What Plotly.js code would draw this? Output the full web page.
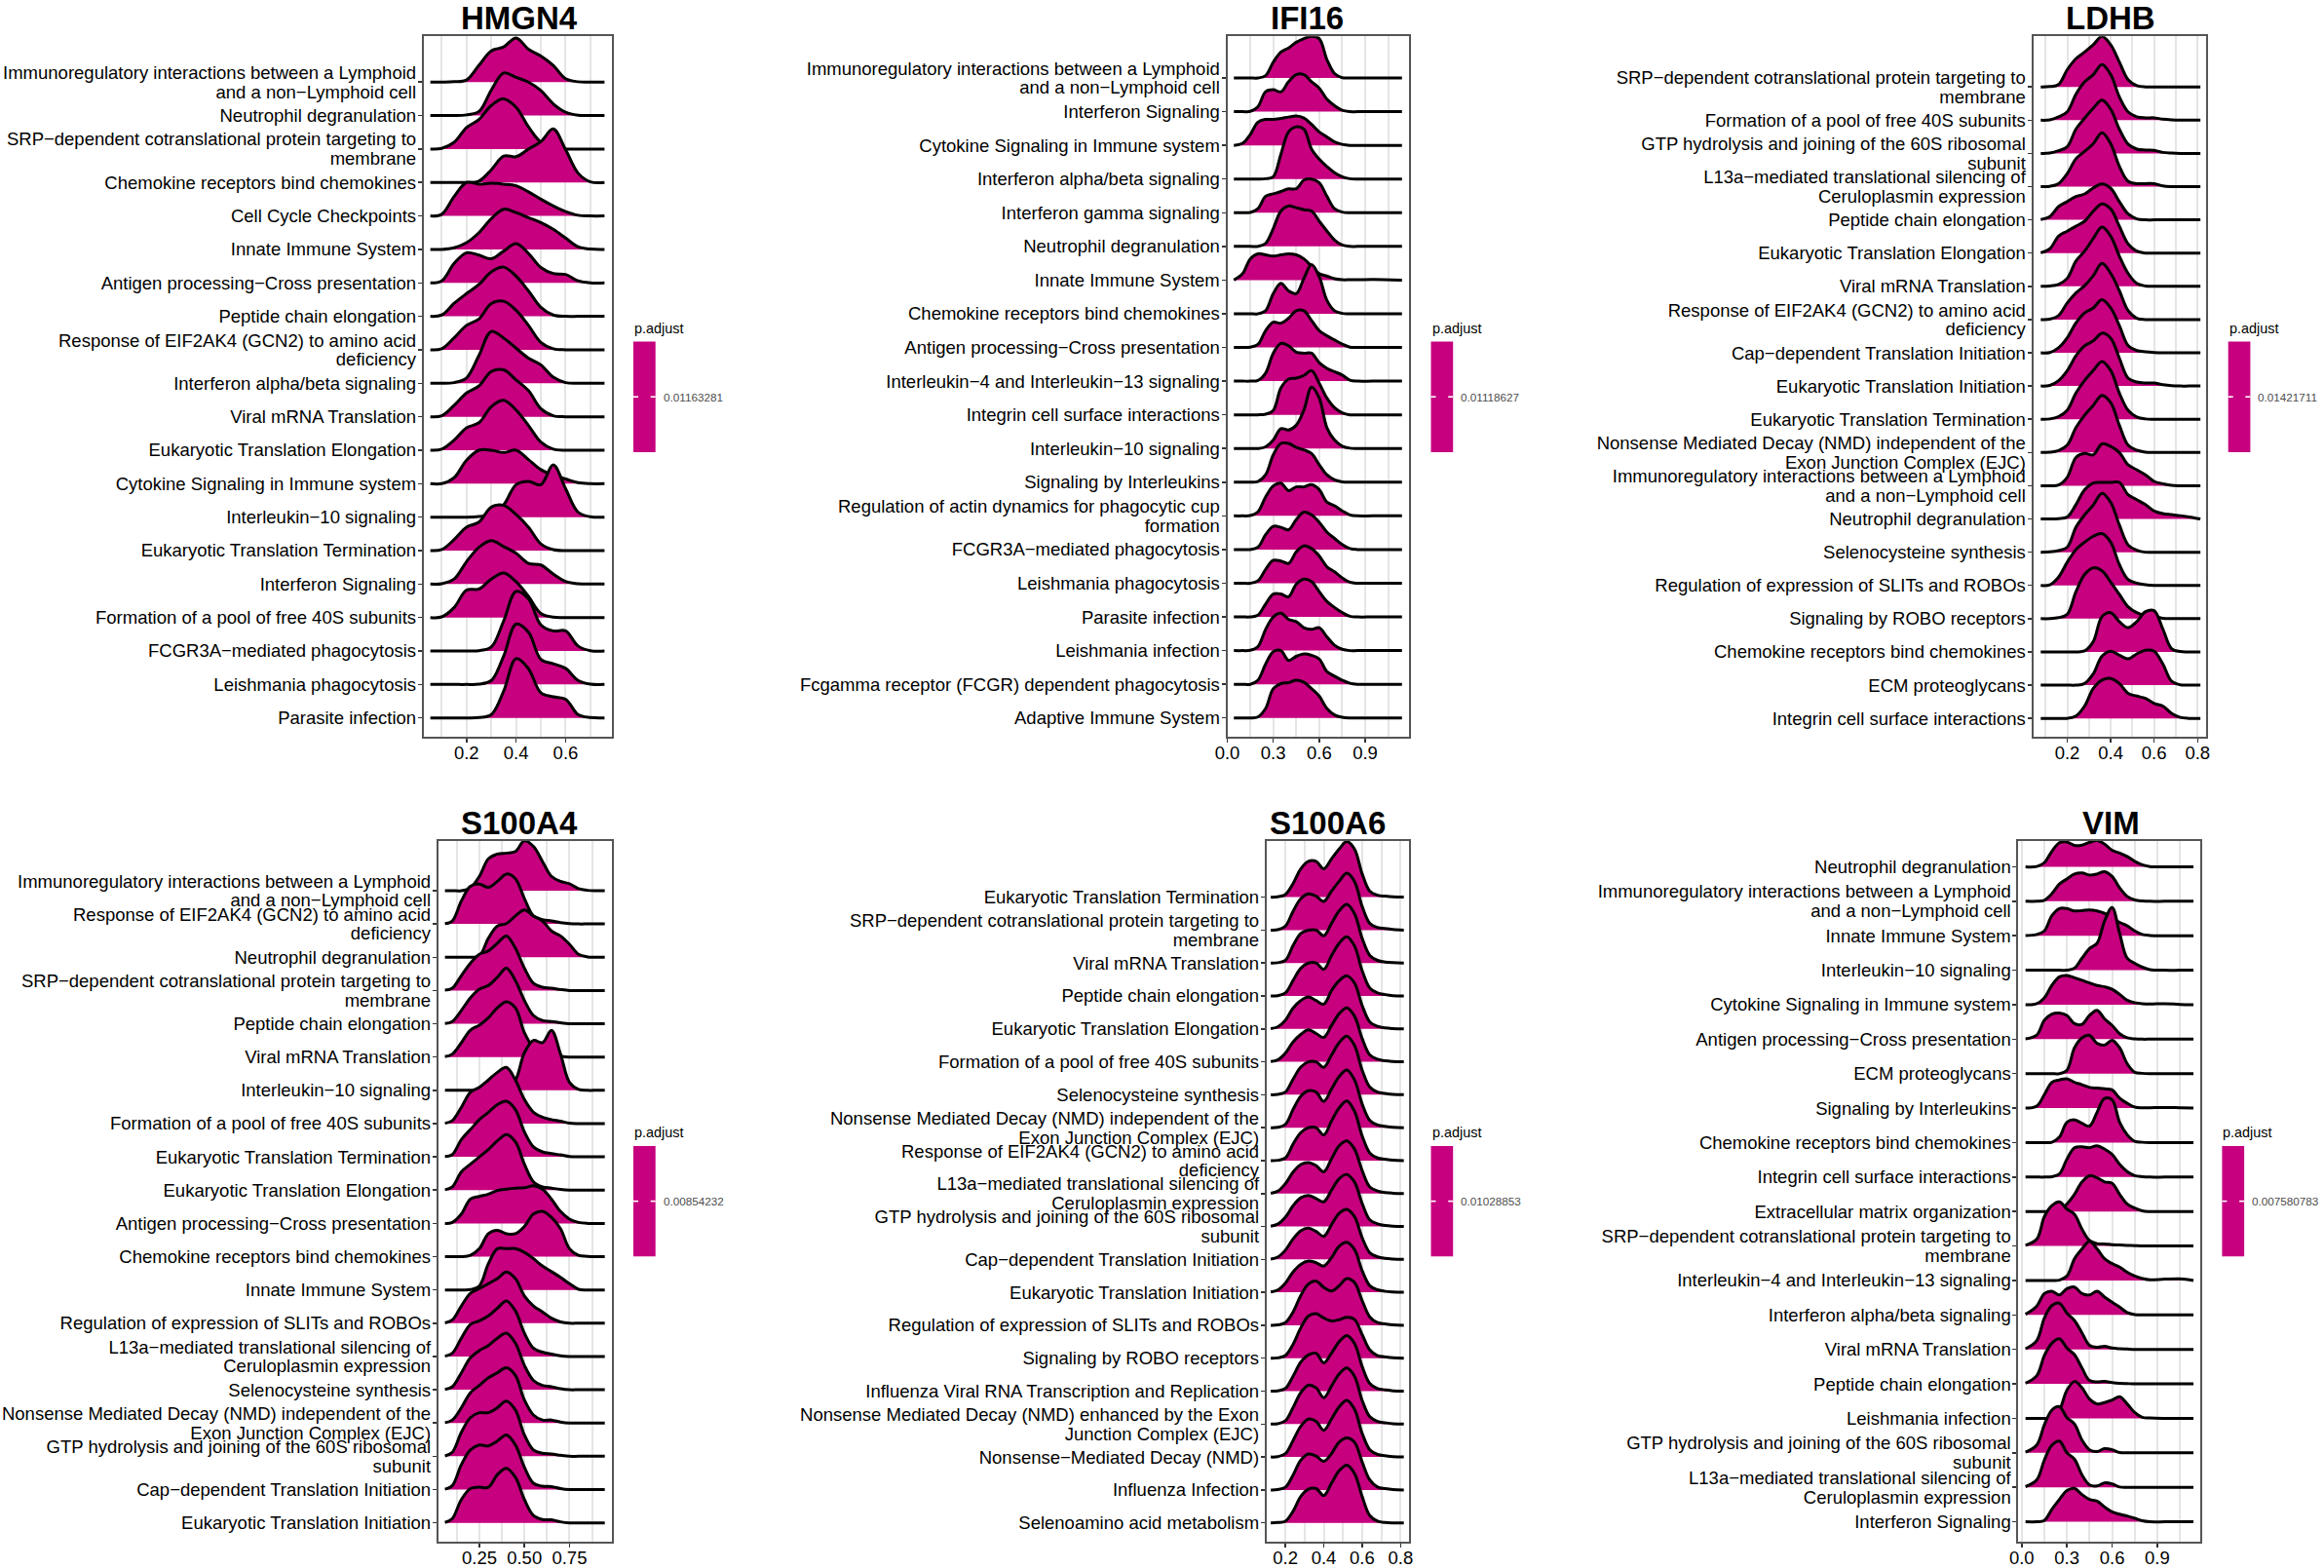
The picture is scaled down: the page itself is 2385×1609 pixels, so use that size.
<!DOCTYPE html>
<html>
<head>
<meta charset="utf-8">
<script src="https://cdn.plot.ly/plotly-3.0.1.min.js"></script>
<style>body{margin:0;background:#fff}</style>
</head>
<body>
<div id="plot" style="width:2385px;height:1609px"></div>
<script>
/***** HMGN4 *****/
var hmgn4Terms = ['Immunoregulatory interactions between a Lymphoid<br>and a non−Lymphoid cell','Neutrophil degranulation','SRP−dependent cotranslational protein targeting to<br>membrane','Chemokine receptors bind chemokines','Cell Cycle Checkpoints','Innate Immune System','Antigen processing−Cross presentation','Peptide chain elongation','Response of EIF2AK4 (GCN2) to amino acid<br>deficiency','Interferon alpha/beta signaling','Viral mRNA Translation','Eukaryotic Translation Elongation','Cytokine Signaling in Immune system','Interleukin−10 signaling','Eukaryotic Translation Termination','Interferon Signaling','Formation of a pool of free 40S subunits','FCGR3A−mediated phagocytosis','Leishmania phagocytosis','Parasite infection'];
var hmgn4X = [.054,.1,.15,.2,.25,.3,.35,.4,.45,.5,.55,.6,.65,.7,.757];
var hmgn4Density = [
  [0,0,.01,.06,.5,.93,1.05,1.32,.98,.78,.5,.1,.01,0,0],
  [0,0,0,.02,.12,.76,1.27,1.14,1.0,.75,.35,.1,.01,0,0],
  [0,.02,.2,.64,.88,1.3,1.5,1.25,.66,.2,.02,0,0,0,0],
  [0,0,0,0,.04,.38,.79,.77,1.0,1.22,1.6,.98,.28,.02,0],
  [0,.05,.58,1.0,.95,.98,.95,.9,.72,.5,.3,.13,.02,0,0],
  [0,0,.05,.2,.5,.92,1.2,1.1,.95,.8,.6,.34,.08,.01,0],
  [0,.06,.58,.9,.83,.72,.95,1.17,.88,.46,.28,.25,.06,0,0],
  [0,.04,.39,.68,.95,1.33,1.47,1.2,.76,.27,.04,0,0,0,0],
  [0,.03,.36,.73,.92,1.38,1.45,1.18,.73,.22,.03,0,0,0,0],
  [0,0,.02,.16,.83,1.55,1.35,1.05,.75,.55,.18,.02,0,0,0],
  [0,.03,.34,.71,.92,1.35,1.4,1.1,.78,.24,.03,0,0,0,0],
  [0,.03,.3,.67,.82,1.3,1.49,1.2,.74,.24,.03,0,0,0,0],
  [0,0,.18,.7,1.0,1.0,.93,1.0,.72,.42,.25,.14,.03,0,0],
  [0,0,0,0,.02,.08,.37,.97,1.07,.97,1.56,.85,.15,.01,0],
  [0,.03,.33,.7,.85,1.3,1.35,1.08,.7,.2,.03,0,0,0,0],
  [0,.01,.15,.67,1.1,1.3,1.12,.92,.62,.57,.3,.08,.01,0,0],
  [0,.02,.3,.82,.85,1.15,1.33,1.07,.63,.12,.01,0,0,0,0],
  [0,0,0,0,.01,.12,.9,1.78,1.56,.78,.6,.6,.15,.01,0],
  [0,0,0,0,.01,.12,.85,1.8,1.56,.75,.62,.48,.12,.01,0],
  [0,0,0,0,.01,.1,.8,1.77,1.47,.75,.63,.56,.1,.01,0]
];

/***** IFI16 *****/
var ifi16Terms = ['Immunoregulatory interactions between a Lymphoid<br>and a non−Lymphoid cell','Interferon Signaling','Cytokine Signaling in Immune system','Interferon alpha/beta signaling','Interferon gamma signaling','Neutrophil degranulation','Innate Immune System','Chemokine receptors bind chemokines','Antigen processing−Cross presentation','Interleukin−4 and Interleukin−13 signaling','Integrin cell surface interactions','Interleukin−10 signaling','Signaling by Interleukins','Regulation of actin dynamics for phagocytic cup<br>formation','FCGR3A−mediated phagocytosis','Leishmania phagocytosis','Parasite infection','Leishmania infection','Fcgamma receptor (FCGR) dependent phagocytosis','Adaptive Immune System'];
var ifi16X = [.043,.1,.15,.2,.25,.3,.35,.4,.45,.5,.55,.6,.65,.7,.75,.8,.85,.95,1.14];
var ifi16Density = [
  [0,0,0,0,.07,.47,.77,.89,1.06,1.17,1.24,1.17,.55,.13,.01,0,0,0,0],
  [0,0,.01,.15,.59,.65,.59,.89,1.1,1.1,.89,.7,.37,.18,.04,0,0,0,0],
  [0,.06,.32,.69,.77,.77,.8,.84,.87,.81,.62,.4,.25,.1,.03,0,0,0,0],
  [0,0,0,0,.01,.07,.74,1.4,1.55,1.48,.89,.59,.37,.19,.07,.01,0,0,0],
  [0,0,.01,.12,.49,.56,.63,.71,.71,.97,1.0,.89,.49,.12,.02,0,0,0,0],
  [0,0,0,0,.09,.53,1.05,1.2,1.15,1.09,1.05,.75,.46,.19,.04,0,0,0,0],
  [0,.19,.63,.78,.75,.71,.75,.78,.75,.63,.41,.19,.12,.04,.01,.01,.01,.02,0],
  [0,0,0,0,.09,.6,.9,.68,.6,1.05,1.46,1.1,.4,.09,.01,0,0,0,0],
  [0,0,.01,.09,.5,.75,.72,.87,1.09,1.09,.8,.5,.35,.22,.1,.01,0,0,0],
  [0,0,0,.02,.24,.83,1.12,1.05,.86,.83,.83,.55,.38,.28,.18,.03,0,0,0],
  [0,0,0,0,.02,.13,.8,1.06,1.09,1.17,1.31,.94,.5,.21,.06,0,0,0,0],
  [0,0,0,0,.05,.25,.59,.55,.69,1.14,1.82,1.5,.62,.25,.07,.01,0,0,0],
  [0,0,0,.02,.22,.81,1.15,1.15,1.03,.96,.85,.52,.22,.07,.01,0,0,0,0],
  [0,0,.01,.12,.56,.89,.97,.75,.86,.86,.93,.78,.41,.3,.15,.03,0,0,0],
  [0,0,0,.07,.44,.69,.66,.59,.89,1.11,1.03,.81,.52,.33,.15,.03,0,0,0],
  [0,0,0,.07,.41,.68,.66,.59,.93,1.11,1.03,.81,.49,.34,.16,.03,0,0,0],
  [0,0,0,.05,.38,.68,.68,.6,.97,1.12,1.05,.75,.46,.28,.13,.02,0,0,0],
  [0,0,.01,.12,.63,1.0,1.11,.93,.86,.68,.63,.68,.41,.16,.04,0,0,0,0],
  [0,0,0,.12,.6,.97,1.0,.71,.83,.9,.86,.75,.38,.24,.12,.03,0,0,0],
  [0,0,0,.03,.28,.87,1.02,1.05,1.12,1.06,.87,.65,.28,.09,.02,0,0,0,0]
];

/***** LDHB *****/
var ldhbTerms = ['SRP−dependent cotranslational protein targeting to<br>membrane','Formation of a pool of free 40S subunits','GTP hydrolysis and joining of the 60S ribosomal<br>subunit','L13a−mediated translational silencing of<br>Ceruloplasmin expression','Peptide chain elongation','Eukaryotic Translation Elongation','Viral mRNA Translation','Response of EIF2AK4 (GCN2) to amino acid<br>deficiency','Cap−dependent Translation Initiation','Eukaryotic Translation Initiation','Eukaryotic Translation Termination','Nonsense Mediated Decay (NMD) independent of the<br>Exon Junction Complex (EJC)','Immunoregulatory interactions between a Lymphoid<br>and a non−Lymphoid cell','Neutrophil degranulation','Selenocysteine synthesis','Regulation of expression of SLITs and ROBOs','Signaling by ROBO receptors','Chemokine receptors bind chemokines','ECM proteoglycans','Integrin cell surface interactions'];
var ldhbX = [.078,.12,.16,.2,.24,.28,.32,.36,.4,.44,.48,.52,.56,.6,.64,.68,.72,.76,.813];
var ldhbDensity = [
  [0,.01,.07,.52,.85,1.05,1.27,1.52,1.27,.75,.22,.04,0,0,0,0,0,0,0],
  [0,.01,.1,.25,.78,1.15,1.37,1.67,1.37,.7,.25,.1,.07,.07,.03,.01,0,0,0],
  [0,.01,.08,.2,.73,1.06,1.36,1.6,1.33,.73,.28,.13,.1,.09,.03,.01,0,0,0],
  [0,.01,.09,.39,.84,1.06,1.29,1.62,1.29,.61,.16,.09,.09,.09,.02,0,0,0,0],
  [.01,.1,.4,.55,.7,.78,.96,1.08,.95,.55,.18,.03,0,0,0,0,0,0,0],
  [.01,.13,.51,.66,.81,.96,1.26,1.48,1.33,.81,.28,.06,0,0,0,0,0,0,0],
  [0,.01,.06,.24,.76,1.06,1.44,1.78,1.51,.91,.39,.09,.01,0,0,0,0,0,0],
  [0,.01,.12,.5,.8,1.02,1.32,1.69,1.39,.87,.27,.04,0,0,0,0,0,0,0],
  [0,.01,.15,.45,.9,1.2,1.35,1.6,1.35,.82,.22,.07,.03,.01,0,0,0,0,0],
  [0,.02,.16,.46,.91,1.21,1.36,1.59,1.44,.84,.24,.12,.09,.09,.04,.01,0,0,0],
  [0,.01,.08,.27,.79,1.17,1.47,1.74,1.47,.79,.27,.07,.01,0,0,0,0,0,0],
  [0,.01,.06,.22,.75,1.12,1.42,1.72,1.5,.82,.22,.07,.01,0,0,0,0,0,0],
  [0,0,.02,.25,.85,.97,.93,1.26,1.18,1.0,.63,.48,.33,.13,.06,.01,0,0,0],
  [0,0,.01,.06,.43,.88,1.08,1.1,1.1,1.1,.73,.58,.43,.24,.16,.13,.1,.06,0],
  [0,.01,.05,.15,.75,1.12,1.42,1.77,1.5,.82,.22,.06,0,0,0,0,0,0,0],
  [0,.02,.25,.7,1.08,1.3,1.48,1.56,1.3,.63,.18,.07,.02,0,0,0,0,0,0],
  [0,0,.03,.13,.81,1.33,1.53,1.44,1.1,.73,.36,.18,.09,.06,.01,0,0,0,0],
  [0,0,0,0,0,.03,.31,1.06,1.18,.91,.73,.91,1.21,1.24,.69,.1,.01,0,0],
  [0,0,0,0,0,.05,.34,.87,1.02,.9,.79,.94,1.05,1.02,.64,.12,.01,0,0],
  [0,0,0,0,.07,.37,.9,1.15,1.2,1.05,.75,.67,.6,.45,.37,.15,.03,0,0]
];

/***** S100A4 *****/
var s100a4Terms = ['Immunoregulatory interactions between a Lymphoid<br>and a non−Lymphoid cell','Response of EIF2AK4 (GCN2) to amino acid<br>deficiency','Neutrophil degranulation','SRP−dependent cotranslational protein targeting to<br>membrane','Peptide chain elongation','Viral mRNA Translation','Interleukin−10 signaling','Formation of a pool of free 40S subunits','Eukaryotic Translation Termination','Eukaryotic Translation Elongation','Antigen processing−Cross presentation','Chemokine receptors bind chemokines','Innate Immune System','Regulation of expression of SLITs and ROBOs','L13a−mediated translational silencing of<br>Ceruloplasmin expression','Selenocysteine synthesis','Nonsense Mediated Decay (NMD) independent of the<br>Exon Junction Complex (EJC)','GTP hydrolysis and joining of the 60S ribosomal<br>subunit','Cap−dependent Translation Initiation','Eukaryotic Translation Initiation'];
var s100a4X = [.059,.1,.15,.2,.25,.3,.35,.4,.45,.5,.55,.6,.65,.7,.75,.8,.85,.9,.946];
var s100a4Density = [
  [0,0,0,.09,.43,.96,1.1,1.13,1.18,1.5,1.33,.88,.43,.28,.21,.06,.01,0,0],
  [.01,.09,.69,1.13,1.2,1.1,1.28,1.5,1.36,.76,.24,.13,.09,.04,.01,0,0,0,0],
  [0,0,0,0,.04,.57,.94,1.01,1.24,1.42,1.24,1.09,.79,.64,.39,.09,.01,0,0],
  [.01,.07,.45,.82,1.09,1.19,1.42,1.64,1.27,.67,.22,.1,.07,.03,0,0,0,0,0],
  [.01,.07,.4,.78,1.04,1.15,1.4,1.67,1.3,.7,.25,.1,.07,.03,0,0,0,0,0],
  [.01,.09,.43,.81,.96,1.18,1.48,1.66,1.48,.73,.28,.13,.09,.03,0,0,0,0,0],
  [0,0,0,0,0,0,.01,.03,.3,1.13,1.5,1.43,1.8,1.1,.24,.03,0,0,0],
  [.01,.09,.49,.94,1.09,1.31,1.54,1.69,1.31,.72,.34,.19,.12,.07,.01,0,0,0,0],
  [.01,.07,.52,.82,1.12,1.34,1.57,1.67,1.42,.75,.3,.15,.1,.06,.01,0,0,0,0],
  [.01,.1,.55,.78,1.0,1.22,1.48,1.67,1.45,.78,.25,.1,.06,.02,0,0,0,0,0],
  [0,.03,.28,.73,.81,.88,.99,1.03,1.06,1.07,1.13,1.03,.73,.36,.13,.03,0,0,0],
  [0,0,0,.04,.24,.69,.79,.69,.69,.91,1.28,1.36,1.18,.84,.24,.04,.01,0,0],
  [0,0,0,.01,.12,.79,1.24,1.24,1.24,1.13,.94,.72,.55,.38,.19,.02,0,0,0],
  [.01,.1,.52,.9,1.04,1.19,1.34,1.54,1.34,.82,.52,.34,.15,.04,0,0,0,0,0],
  [.01,.1,.55,.96,1.07,1.22,1.45,1.67,1.37,.7,.25,.13,.07,.02,0,0,0,0,0],
  [.01,.09,.51,.96,1.18,1.33,1.55,1.7,1.4,.73,.28,.13,.09,.03,0,0,0,0,0],
  [.01,.09,.46,.91,1.13,1.36,1.51,1.66,1.43,.69,.24,.09,.09,.03,0,0,0,0,0],
  [.01,.12,.72,1.16,1.31,1.31,1.46,1.66,1.39,.64,.19,.09,.07,.03,0,0,0,0,0],
  [.01,.12,.75,1.19,1.34,1.31,1.46,1.64,1.34,.67,.19,.1,.09,.03,0,0,0,0,0],
  [.01,.13,.7,1.03,1.07,1.07,1.45,1.64,1.37,.7,.22,.1,.09,.03,0,0,0,0,0]
];

/***** S100A6 *****/
var s100a6Terms = ['Eukaryotic Translation Termination','SRP−dependent cotranslational protein targeting to<br>membrane','Viral mRNA Translation','Peptide chain elongation','Eukaryotic Translation Elongation','Formation of a pool of free 40S subunits','Selenocysteine synthesis','Nonsense Mediated Decay (NMD) independent of the<br>Exon Junction Complex (EJC)','Response of EIF2AK4 (GCN2) to amino acid<br>deficiency','L13a−mediated translational silencing of<br>Ceruloplasmin expression','GTP hydrolysis and joining of the 60S ribosomal<br>subunit','Cap−dependent Translation Initiation','Eukaryotic Translation Initiation','Regulation of expression of SLITs and ROBOs','Signaling by ROBO receptors','Influenza Viral RNA Transcription and Replication','Nonsense Mediated Decay (NMD) enhanced by the Exon<br>Junction Complex (EJC)','Nonsense−Mediated Decay (NMD)','Influenza Infection','Selenoamino acid metabolism'];
var s100a6X = [.124,.16,.2,.24,.28,.32,.36,.4,.44,.48,.52,.56,.6,.64,.68,.72,.76,.817];
var s100a6Density = [
  [0,.01,.08,.41,.86,1.09,1.09,.86,1.16,1.46,1.69,1.46,.71,.18,.06,.03,.01,0],
  [0,.01,.12,.57,.95,1.1,1.03,.87,1.18,1.48,1.73,1.48,.72,.2,.08,.05,.02,0],
  [0,.01,.08,.53,.9,1.0,1.0,.83,1.2,1.58,1.78,1.5,.75,.23,.08,.03,.01,0],
  [0,.01,.09,.47,.84,1.0,1.0,.81,1.22,1.6,1.8,1.52,.77,.24,.09,.04,.01,0],
  [.01,.06,.26,.63,.86,.97,.86,.75,1.16,1.46,1.61,1.39,.71,.21,.08,.03,.01,0],
  [.01,.06,.26,.6,.83,.97,.86,.74,1.1,1.46,1.64,1.39,.71,.21,.08,.03,.01,0],
  [0,.01,.08,.47,.84,1.0,1.0,.83,1.2,1.58,1.78,1.5,.75,.23,.08,.04,.01,0],
  [0,.01,.1,.55,.95,1.12,1.08,.8,1.17,1.55,1.75,1.45,.72,.22,.08,.04,.01,0],
  [0,.01,.08,.5,.85,1.0,1.0,.78,1.2,1.6,1.81,1.5,.75,.23,.08,.04,.01,0],
  [.01,.07,.3,.65,.88,.94,.85,.66,1.05,1.45,1.6,1.35,.7,.2,.08,.03,.01,0],
  [.01,.07,.28,.63,.87,.94,.85,.75,1.1,1.45,1.58,1.35,.7,.2,.08,.03,.01,0],
  [.01,.07,.28,.62,.87,.95,.85,.7,1.05,1.4,1.52,1.3,.66,.2,.08,.03,.01,0],
  [.01,.07,.28,.62,.85,.95,.9,.8,1.05,1.4,1.52,1.3,.66,.2,.08,.03,.01,0],
  [0,.01,.08,.4,.9,1.25,1.34,1.15,1.04,1.2,1.42,1.3,.75,.25,.08,.04,.01,0],
  [0,.01,.08,.42,.92,1.28,1.35,1.22,1.13,1.17,1.24,1.18,.72,.25,.08,.04,.01,0],
  [0,.01,.08,.45,.88,1.1,1.15,.86,1.15,1.5,1.69,1.45,.75,.23,.08,.04,.01,0],
  [0,.01,.1,.5,.95,1.18,1.1,.8,1.15,1.52,1.7,1.45,.72,.22,.08,.04,.01,0],
  [0,.01,.1,.5,.93,1.15,1.08,.81,1.15,1.52,1.72,1.45,.72,.22,.08,.04,.01,0],
  [0,.01,.08,.45,.9,1.09,1.03,.87,1.1,1.45,1.58,1.45,.85,.3,.09,.04,.01,0],
  [0,.01,.05,.35,.8,1.02,1.04,.83,1.2,1.58,1.75,1.5,.8,.22,.05,.01,0,0]
];

/***** VIM *****/
var vimTerms = ['Neutrophil degranulation','Immunoregulatory interactions between a Lymphoid<br>and a non−Lymphoid cell','Innate Immune System','Interleukin−10 signaling','Cytokine Signaling in Immune system','Antigen processing−Cross presentation','ECM proteoglycans','Signaling by Interleukins','Chemokine receptors bind chemokines','Integrin cell surface interactions','Extracellular matrix organization','SRP−dependent cotranslational protein targeting to<br>membrane','Interleukin−4 and Interleukin−13 signaling','Interferon alpha/beta signaling','Viral mRNA Translation','Peptide chain elongation','Leishmania infection','GTP hydrolysis and joining of the 60S ribosomal<br>subunit','L13a−mediated translational silencing of<br>Ceruloplasmin expression','Interferon Signaling'];
var vimX = [.025,.1,.15,.2,.25,.3,.35,.4,.45,.5,.55,.6,.65,.7,.75,.8,.85,.95,1.05,1.14];
var vimDensity = [
  [0,.01,.12,.45,.7,.72,.62,.63,.71,.76,.66,.48,.4,.3,.16,.06,.01,0,0,0],
  [0,0,.03,.22,.5,.65,.79,.82,.76,.79,.86,.72,.39,.14,.04,.01,0,0,0,0],
  [.01,.04,.14,.58,.79,.79,.72,.73,.75,.72,.65,.53,.39,.29,.14,.04,.01,0,0,0],
  [0,0,0,0,0,0,.06,.35,.63,.78,1.43,1.82,1.07,.35,.2,.09,.02,0,0,0],
  [0,.03,.2,.56,.81,.85,.78,.71,.63,.56,.52,.45,.3,.13,.06,.03,.02,.03,.01,0],
  [.01,.12,.55,.73,.76,.69,.45,.43,.69,.84,.59,.4,.16,.04,.01,0,0,0,0,0],
  [0,0,0,0,0,.1,.75,1.04,1.11,.88,.83,.97,.75,.29,.04,.01,0,0,0,0],
  [0,.06,.39,.75,.82,.85,.75,.68,.6,.58,.56,.53,.29,.14,.03,.01,.01,.02,.01,0],
  [0,0,0,.01,.16,.59,.66,.56,.48,.88,1.28,1.24,.59,.23,.04,.01,0,0,0,0],
  [0,0,0,.01,.09,.52,.85,.88,.85,.91,.81,.66,.37,.16,.04,.01,0,0,0,0],
  [0,0,0,0,.02,.22,.5,.86,1.04,.98,.86,.82,.5,.22,.1,.02,0,0,0,0],
  [.02,.2,.85,1.17,1.28,1.07,.92,.49,.16,.07,.06,.04,.03,.02,.01,0,0,0,0,0],
  [0,0,0,0,.01,.13,.63,.92,1.14,.92,.63,.49,.39,.24,.13,.06,.02,.04,.05,0],
  [.02,.26,.62,.69,.58,.76,.81,.62,.58,.69,.52,.37,.23,.07,.01,0,0,0,0,0],
  [.02,.26,.91,1.27,1.34,1.05,.84,.48,.12,.06,.09,.04,.02,.01,0,0,0,0,0,0],
  [.02,.24,.82,1.18,1.31,1.04,.85,.46,.1,.06,.07,.04,.02,.01,0,0,0,0,0,0],
  [0,0,0,.03,.24,.82,1.07,.89,.56,.42,.46,.53,.63,.42,.17,.03,.01,0,0,0],
  [.02,.23,.81,1.24,1.34,1.02,.84,.37,.09,.04,.12,.09,.01,0,0,0,0,0,0,0],
  [.02,.22,.79,1.22,1.34,1.0,.82,.36,.07,.04,.13,.1,.01,0,0,0,0,0,0,0],
  [0,0,.04,.36,.65,.91,.97,.79,.65,.6,.43,.29,.22,.17,.1,.03,0,0,0,0]
];

var W = 2385, H = 1609;
var ridgeColor = '#C6007E';
var fontName = '"Liberation Sans", Arial, sans-serif';

// frame = left, right, top, bottom in pixels of the page
var panels = [
  {name:'HMGN4', terms:hmgn4Terms, x:hmgn4X, d:hmgn4Density, frame:[434.8,627.5,37.2,756.1], xr:[.027,.785], yr:[.435,21.369],
   ticks:['0.2','0.4','0.6'], tickPos:[.2,.4,.6], minor:[.1,.3,.5,.7], titleX:533, titleY:18.9, barX:650, barY:350.5, pval:'0.01163281'},
  {name:'IFI16', terms:ifi16Terms, x:ifi16X, d:ifi16Density, frame:[1259.5,1446,37.2,756.1], xr:[0,1.186], yr:[.44,21.239],
   ticks:['0.0','0.3','0.6','0.9'], tickPos:[0,.3,.6,.9], minor:[.15,.45,.75,1.05], titleX:1341,titleY:18.9, barX:1468.5, barY:350.5, pval:'0.01118627'},
  {name:'LDHB', terms:ldhbTerms, x:ldhbX, d:ldhbDensity, frame:[2086.5,2264.4,37.2,756.1], xr:[.043,.841], yr:[.444,21.525],
   ticks:['0.2','0.4','0.6','0.8'], tickPos:[.2,.4,.6,.8], minor:[.1,.3,.5,.7], titleX:2166,titleY:18.9, barX:2286.7, barY:350.5, pval:'0.01421711'},
  {name:'S100A4', terms:s100a4Terms, x:s100a4X, d:s100a4Density, frame:[449.8,627.5,863,1582], xr:[.022,.983], yr:[.433,21.493],
   ticks:['0.25','0.50','0.75'], tickPos:[.25,.5,.75], minor:[.125,.375,.625,.875], titleX:533,titleY:844, barX:650, barY:1175.9, pval:'0.00854232'},
  {name:'S100A6', terms:s100a6Terms, x:s100a6X, d:s100a6Density, frame:[1299.8,1446,863,1582], xr:[.102,.844], yr:[.428,21.705],
   ticks:['0.2','0.4','0.6','0.8'], tickPos:[.2,.4,.6,.8], minor:[.3,.5,.7], titleX:1363,titleY:844, barX:1468.5, barY:1175.9, pval:'0.01028853'},
  {name:'VIM', terms:vimTerms, x:vimX, d:vimDensity, frame:[2071.4,2258,863,1582], xr:[-.022,1.185], yr:[.423,20.749],
   ticks:['0.0','0.3','0.6','0.9'], tickPos:[0,.3,.6,.9], minor:[.15,.45,.75,1.05], titleX:2166.4,titleY:844, barX:2280.4, barY:1175.9, pval:'0.007580783'}
];

var data = [];
var layout = {
  width: W, height: H,
  margin: {l:0, r:0, t:0, b:0},
  paper_bgcolor: '#fff', plot_bgcolor: '#fff',
  showlegend: false,
  font: {family: fontName, color: '#000'},
  annotations: [], shapes: []
};

function px(x) { return x / W; }
function py(y) { return 1 - y / H; }

panels.forEach(function (p, n) {
  var suffix = n === 0 ? '' : String(n + 1);
  var xa = 'x' + suffix, ya = 'y' + suffix;
  var rows = p.terms.length;
  var rowPos = p.terms.map(function (t, i) { return rows - i; });

  // top rows first, so lower ridges cover them
  p.d.forEach(function (heights, i) {
    var row = rowPos[i];
    data.push({
      x: p.x, y: p.x.map(function () { return row; }), xaxis: xa, yaxis: ya,
      type: 'scatter', mode: 'lines', hoverinfo: 'skip',
      line: {width: 0, shape: 'spline', smoothing: 1}
    });
    data.push({
      x: p.x, y: heights.map(function (h) { return row + h; }), xaxis: xa, yaxis: ya,
      type: 'scatter', mode: 'lines', hoverinfo: 'skip',
      fill: 'tonexty', fillcolor: ridgeColor,
      line: {color: '#000', width: 3, shape: 'spline', smoothing: 1}
    });
  });

  layout['xaxis' + suffix] = {
    domain: [px(p.frame[0]), px(p.frame[1])], anchor: ya, range: p.xr,
    tickmode: 'array', tickvals: p.tickPos, ticktext: p.ticks,
    ticks: 'outside', ticklen: 4, tickwidth: 1.5, tickcolor: '#333', ticklabelstandoff: -5,
    tickfont: {size: 18.5, color: '#000', family: fontName},
    showgrid: true, gridcolor: '#e5e5e5', gridwidth: 2,
    minor: {tickmode: 'array', tickvals: p.minor, showgrid: true, gridcolor: '#e5e5e5', gridwidth: 2, ticks: ''},
    zeroline: false, showline: true, mirror: true, linecolor: '#555', linewidth: 2
  };
  layout['yaxis' + suffix] = {
    domain: [py(p.frame[3]), py(p.frame[2])], anchor: xa, range: p.yr,
    tickmode: 'array', tickvals: rowPos, ticktext: p.terms,
    ticks: 'outside', ticklen: 4, tickwidth: 1.5, tickcolor: '#333', ticklabelstandoff: -2,
    tickfont: {size: 18.5, color: '#000', family: fontName},
    showgrid: false, zeroline: false, showline: true, mirror: true, linecolor: '#555', linewidth: 2
  };

  layout.annotations.push({
    xref: 'paper', yref: 'paper', x: px(p.titleX), y: py(p.titleY), xanchor: 'center', yanchor: 'middle',
    text: '<b>' + p.name + '</b>', showarrow: false, borderpad: 0, font: {size: 33, color: '#000', family: fontName}
  });

  // p.adjust legend: a single colour bar with one notched break
  var bw = 22.7, bh = 113.4, mid = p.barY + bh / 2;
  layout.shapes.push({
    type: 'rect', xref: 'paper', yref: 'paper', layer: 'above', line: {width: 0}, fillcolor: ridgeColor,
    x0: px(p.barX), x1: px(p.barX + bw), y0: py(p.barY), y1: py(p.barY + bh)
  });
  [[p.barX, p.barX + 5], [p.barX + bw - 5, p.barX + bw]].forEach(function (s) {
    layout.shapes.push({
      type: 'line', xref: 'paper', yref: 'paper', layer: 'above', line: {color: '#fff', width: 1.6},
      x0: px(s[0]), x1: px(s[1]), y0: py(mid), y1: py(mid)
    });
  });
  layout.annotations.push({
    xref: 'paper', yref: 'paper', x: px(p.barX), y: py(p.barY - 13.5), xanchor: 'left', yanchor: 'middle',
    text: 'p.adjust', showarrow: false, borderpad: 0, font: {size: 14.4, color: '#000', family: fontName}
  });
  layout.annotations.push({
    xref: 'paper', yref: 'paper', x: px(p.barX + bw + 7), y: py(mid), xanchor: 'left', yanchor: 'middle',
    text: p.pval, showarrow: false, borderpad: 0, font: {size: 11.7, color: '#4d4d4d', family: fontName}
  });
});

Plotly.newPlot('plot', data, layout, {displayModeBar: false, staticPlot: true}).then(function (gd) {
  // the two-line terms sit closer together than plotly's fixed line spacing
  gd.querySelectorAll('.yaxislayer-above text').forEach(function (t) {
    var lines = t.querySelectorAll('tspan.line');
    if (lines.length === 2) {
      lines[0].setAttribute('dy', '0.115em');
      lines[1].setAttribute('dy', '1.185em');
    }
  });
});
</script>
</body>
</html>
